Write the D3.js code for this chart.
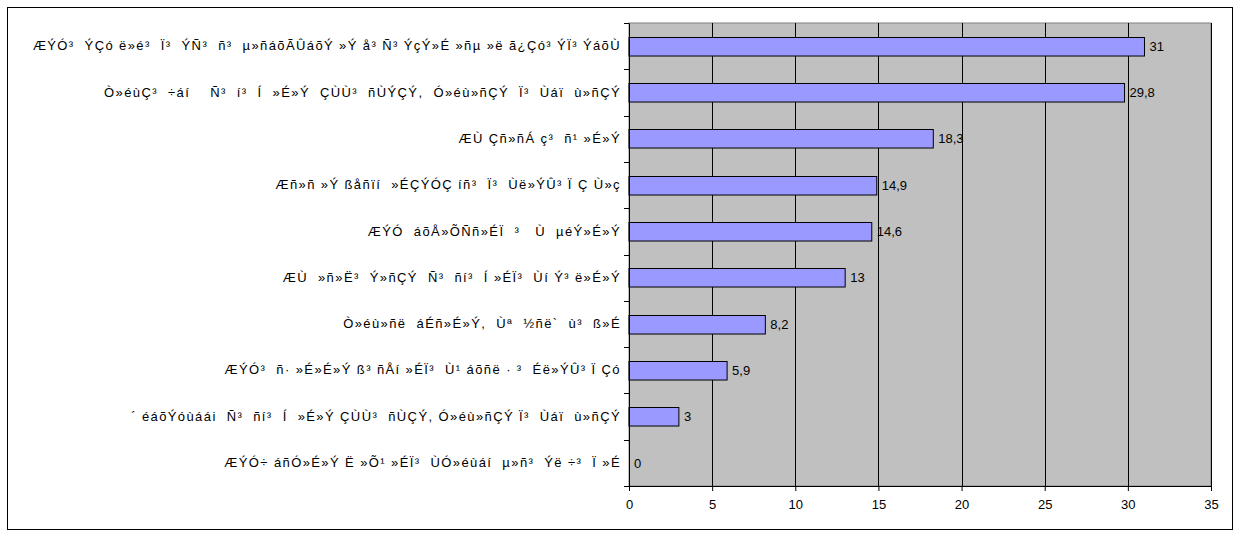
<!DOCTYPE html>
<html><head><meta charset="utf-8">
<script src="https://cdn.jsdelivr.net/npm/d3@7"></script>
<style>body{margin:0;background:#fff}svg{display:block}text{font-family:"Liberation Sans",Arial,sans-serif}</style>
</head><body>
<svg id="c" width="1240" height="540"></svg>
<script>
const categories = [
  "ÆÝÓ³  ÝÇó ë»é³  Ï³  ÝÑ³  ñ³  µ»ñáõÃÛáõÝ »Ý å³ Ñ³ ÝçÝ»É »ñµ »ë ã¿Çó³ ÝÏ³ ÝáõÙ",
  "Ò»éùÇ³  ÷áí    Ñ³  í³  Í  »É»Ý  ÇÙÙ³  ñÙÝÇÝ,  Ó»éù»ñÇÝ  Ï³  Ùáï  ù»ñÇÝ",
  "ÆÙ Çñ»ñÁ ç³  ñ¹ »É»Ý",
  "Æñ»ñ »Ý ßåñïí  »ÉÇÝÓÇ íñ³  Ï³  Ùë»ÝÛ³ Ï Ç Ù»ç",
  "ÆÝÓ  áõÅ»ÕÑñ»ÉÏ  ³   Ù  µéÝ»É»Ý",
  "ÆÙ  »ñ»Ë³  Ý»ñÇÝ  Ñ³  ñí³  Í »ÉÏ³  Ùí Ý³ ë»É»Ý",
  "Ò»éù»ñë  áÉñ»É»Ý,  Ùª  ½ñë`  ù³  ß»É",
  "ÆÝÓ³  ñ· »É»É»Ý ß³ ñÅí »ÉÏ³  Ù¹ áõñë · ³  Éë»ÝÛ³ Ï Çó",
  "´ éáõÝóùáái  Ñ³  ñí³  Í  »É»Ý ÇÙÙ³  ñÙÇÝ, Ó»éù»ñÇÝ Ï³  Ùáï  ù»ñÇÝ",
  "ÆÝÓ÷ áñÓ»É»Ý Ë »Õ¹ »ÉÏ³  ÙÓ»éùáí  µ»ñ³  Ýë ÷³  Ï »É"
];
const values = [31, 29.8, 18.3, 14.9, 14.6, 13, 8.2, 5.9, 3, 0];
const valueLabels = ["31", "29,8", "18,3", "14,9", "14,6", "13", "8,2", "5,9", "3", "0"];
const xTicks = [0, 5, 10, 15, 20, 25, 30, 35];

const svg = d3.select("#c");
const L = 629, R = 1211, T = 23, B = 486;

svg.append("rect").attr("x", 7.5).attr("y", 7.5).attr("width", 1225).attr("height", 522)
  .attr("fill", "#fff").attr("stroke", "#000");

const x = d3.scaleLinear().domain([0, 35]).range([L, R]);
const y = d3.scaleBand().domain(categories).range([T, B]).paddingInner(0.6).paddingOuter(0.3);
const yb = d3.scaleBand().domain(categories).range([T, B]);

svg.append("rect").attr("x", L).attr("y", T).attr("width", R - L).attr("height", B - T)
  .attr("fill", "#c0c0c0").attr("stroke", "#808080");

svg.append("g").selectAll("line").data(xTicks.slice(1)).join("line")
  .attr("x1", d => Math.round(x(d)) + 0.5).attr("x2", d => Math.round(x(d)) + 0.5)
  .attr("y1", T).attr("y2", B).attr("stroke", "#000");

svg.append("g").selectAll("rect").data(values).join("rect")
  .attr("x", x(0)).attr("y", (d, i) => Math.round(y(categories[i])) + 0.5)
  .attr("width", d => x(d) - x(0)).attr("height", y.bandwidth())
  .attr("fill", "#9999ff").attr("stroke", "#000").attr("stroke-width", 1);

svg.append("g").selectAll("text").data(values).join("text")
  .attr("x", d => x(d) + 5).attr("y", (d, i) => y(categories[i]) + y.bandwidth() / 2)
  .attr("dy", "0.36em").attr("font-size", 13).attr("fill", "#000")
  .text((d, i) => valueLabels[i]);

// x axis
const xa = svg.append("g").attr("transform", `translate(0,${B})`)
  .call(d3.axisBottom(x).tickValues(xTicks).tickSize(5).tickPadding(9));
xa.select(".domain").attr("stroke", "#000");
xa.selectAll("text").attr("font-size", 13).attr("font-family", "Liberation Sans, Arial, sans-serif").attr("fill", "#000");

// y axis
const ya = svg.append("g").attr("transform", `translate(${L},0)`)
  .call(d3.axisLeft(yb).tickSize(0).tickPadding(8));
ya.select(".domain").attr("stroke", "#000");
ya.selectAll("text").attr("font-size", 13).attr("font-family", "Liberation Sans, Arial, sans-serif")
  .attr("fill", "#000").style("white-space", "pre").attr("letter-spacing", 1.4);
const bounds = categories.map(c => yb(c)).concat([B]);
svg.append("g").selectAll("line").data(bounds).join("line")
  .attr("x1", L - 5).attr("x2", L).attr("y1", d => Math.round(d) + 0.5).attr("y2", d => Math.round(d) + 0.5)
  .attr("stroke", "#000");
</script>
</body></html>
